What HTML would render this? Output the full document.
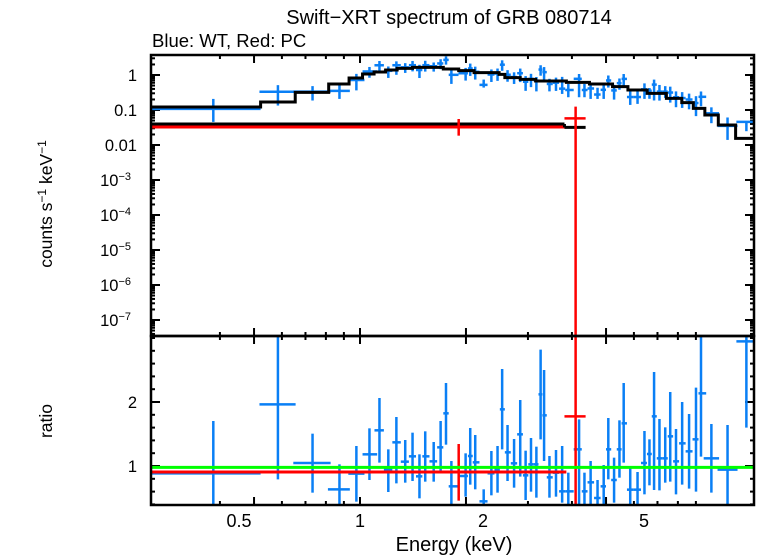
<!DOCTYPE html>
<html><head><meta charset="utf-8"><style>
html,body{margin:0;padding:0;background:#fff;}
svg{display:block;font-family:"Liberation Sans",sans-serif;}
</style></head><body>
<svg id="s" width="758" height="556" viewBox="0 0 758 556" xmlns="http://www.w3.org/2000/svg">
<rect width="758" height="556" fill="#fff"/>
<g id="d"></g>
<text x="449" y="24" font-size="20" text-anchor="middle">Swift−XRT spectrum of GRB 080714</text>
<text x="152" y="47" font-size="18.5">Blue: WT, Red: PC</text>
<text transform="translate(52,204) rotate(-90)" font-size="17.5" text-anchor="middle">counts s<tspan dy="-6" font-size="12">−1</tspan><tspan dy="6"> keV</tspan><tspan dy="-6" font-size="12">−1</tspan></text>
<text transform="translate(52,421) rotate(-90)" font-size="17.5" text-anchor="middle">ratio</text>
<g font-size="16.5" text-anchor="end">
<text x="137" y="81">1</text><text x="137" y="116">0.1</text><text x="137" y="151">0.01</text>
<text x="131" y="186">10<tspan dy="-6" font-size="11">−3</tspan></text>
<text x="131" y="221">10<tspan dy="-6" font-size="11">−4</tspan></text>
<text x="131" y="256">10<tspan dy="-6" font-size="11">−5</tspan></text>
<text x="131" y="291">10<tspan dy="-6" font-size="11">−6</tspan></text>
<text x="131" y="326">10<tspan dy="-6" font-size="11">−7</tspan></text>
<text x="137" y="408">2</text><text x="137" y="472">1</text>
</g>
<g font-size="18" text-anchor="middle">
<text x="239" y="527">0.5</text><text x="360" y="527">1</text><text x="483" y="527">2</text><text x="644" y="527">5</text>
<text x="454" y="551" font-size="20">Energy (keV)</text>
</g>
</svg>
<script>
var NS="http://www.w3.org/2000/svg",g=document.getElementById("d");
function el(t,a){var e=document.createElementNS(NS,t);for(var k in a)e.setAttribute(k,a[k]);g.appendChild(e);return e;}
function ln(x1,y1,x2,y2,c,w){el("line",{x1:x1,y1:y1,x2:x2,y2:y2,stroke:c,"stroke-width":w});}
var L=151,R=754,T=55,M=336,B=505;
function X(z){return L+z/2.6;}
function ex(E){return 360+352*Math.log10(E);}
var ms=[[0,171],[285,156],[375,127],[462,102],[515,84],[550,72],[580,66],[610,60],[640,55],[680,52],[760,57],[800,62],[840,68],[905,73],[920,83],[960,88],[1000,93],[1080,97],[1140,102],[1200,110],[1240,120],[1290,130],[1340,145],[1380,158],[1410,175],[1440,195],[1475,225],[1520,265],[1568,265]];
function mY(z){var y=ms[0][1];for(var i=0;i<ms.length;i++){if(z>=ms[i][0])y=ms[i][1];}return 50+y/3;}
var P=[[162,412,255,510,0,285],[330,205,0,430,282,376],[420,381,293,470,370,467],[490,460,385,510,460,517],[534,413,330,497,513,555],[568,355,277,432,550,588],[594,283,186,380],[617,400,340,468],[638,319,243,442],[661,377,312,440],[680,361,290,435],[698,421,355,487],[713,361,286,437],[735,376,318,437],[753,334,255,412],[767,232,141,326],[781,451,375,510],[818,420,352,482],[830,360,276,446],[843,379,297,460],[865,496,460,510],[885,412,345,478],[901,400,330,470],[913,220,99,340],[927,349,267,435],[944,382,309,455],[960,295,192,422],[974,418,344,492],[988,385,306,467],[1002,385,332,485],[1013,175,41,310],[1022,238,102,375],[1036,424,360,485],[1053,410,342,482],[1069,466,330,500],[1085,466,410,510],[1113,340,250,510],[1127,466,410,510],[1143,439,375,510],[1161,486,432,510],[1177,451,387,510],[1189,340,246,430],[1204,432,365,500],[1218,340,253,425],[1229,262,141,380],[1246,461,395,510],[1265,461,408,505],[1283,381,285,475],[1296,354,310,448],[1308,241,108,462],[1322,367,249,463],[1337,367,274,440],[1350,301,168,437],[1365,376,279,475],[1381,322,198,446],[1399,346,234,458],[1417,310,155,467],[1430,172,0,362],[1457,367,264,470,1437,1477],[1499,401,267,510,1473,1525],[1548,16,0,275,1522,1568]];
var blue="#0a7ff5";
function ticks(y0,y1){
 var maj=[0.5,1,2,5],mn=[0.4,0.6,0.7,0.8,0.9,3,4,6,7,8,9];
 maj.forEach(function(E){var x=ex(E);ln(x,y0,x,y0+8,"#000",2);ln(x,y1,x,y1-8,"#000",2);});
 mn.forEach(function(E){var x=ex(E);ln(x,y0,x,y0+4,"#000",2);ln(x,y1,x,y1-4,"#000",2);});
}
ticks(T,M);ticks(M,B);
for(var d=1;d>=-8;d--){for(var k=1;k<10;k++){var v=d+Math.log10(k);var y=75-35*v;if(y<T||y>M)continue;var w=k==1?9:4;ln(L,y,L+w,y,"#000",2);ln(R,y,R-w,y,"#000",2);}}
for(var r=0.4;r<3.05;r+=0.2){var y=466-64*(r-1);if(y<M||y>B)continue;var w=(Math.abs(r-1)<0.01||Math.abs(r-2)<0.01)?9:4;ln(L,y,L+w,y,"#000",2);ln(R,y,R-w,y,"#000",2);}
var defs=el("defs",{});
var c1=document.createElementNS(NS,"clipPath");c1.setAttribute("id","c1");var r1=document.createElementNS(NS,"rect");r1.setAttribute("x",L);r1.setAttribute("y",T);r1.setAttribute("width",R-L);r1.setAttribute("height",M-T);c1.appendChild(r1);defs.appendChild(c1);
var c2=document.createElementNS(NS,"clipPath");c2.setAttribute("id","c2");var r2=document.createElementNS(NS,"rect");r2.setAttribute("x",L);r2.setAttribute("y",M);r2.setAttribute("width",R-L);r2.setAttribute("height",B-M);c2.appendChild(r2);defs.appendChild(c2);
var gt=el("g",{"clip-path":"url(#c1)"}),gb=el("g",{"clip-path":"url(#c2)"});
function L2(p,x1,y1,x2,y2,c,w){var e=document.createElementNS(NS,"line");e.setAttribute("x1",x1);e.setAttribute("y1",y1);e.setAttribute("x2",x2);e.setAttribute("y2",y2);e.setAttribute("stroke",c);e.setAttribute("stroke-width",w);p.appendChild(e);}
function rat(zy){return 1+(390-zy)/192;}
function ty(my,r){if(r<=0.001)return 400;return my-35*Math.log10(r);}
P.forEach(function(p,i){
 var hl=p[4],hr=p[5];
 if(hl===undefined){var prev=i>0?P[i-1][0]:p[0]-20,next=i<P.length-1?P[i+1][0]:p[0]+20;hl=(p[0]+prev)/2;hr=(p[0]+next)/2;}
 var x=X(p[0]);
 L2(gb,x,336+p[2]/3,x,336+p[3]/3,blue,2.5);
 L2(gb,X(hl),336+p[1]/3,X(hr),336+p[1]/3,blue,2.5);
 var my=mY(p[0]);
 var yc=ty(my,rat(p[1])),yt=ty(my,rat(p[2])),yb=ty(my,rat(p[3]));
 L2(gt,x,yt,x,yb,blue,2.5);
 L2(gt,X(hl),yc,X(hr),yc,blue,2.5);
});
var pts="";for(var i=0;i<ms.length;i++){var x=X(ms[i][0]),y=50+ms[i][1]/3;if(i>0)pts+=x+","+(50+ms[i-1][1]/3)+" ";pts+=x+","+y+" ";}
var pl=document.createElementNS(NS,"polyline");pl.setAttribute("points",pts);pl.setAttribute("fill","none");pl.setAttribute("stroke","#000");pl.setAttribute("stroke-width",3);gt.appendChild(pl);
var red="#f00";
L2(gt,X(0),50+231/3,X(1075),50+231/3,red,3);
L2(gt,X(0),50+222/3,X(1075),50+222/3,"#000",3);
L2(gt,X(1075),50+222/3,X(1075),50+232/3,"#000",3);
L2(gt,X(1075),50+232/3,X(1130),50+232/3,"#000",3);
L2(gt,X(800),50+207/3,X(800),50+257/3,red,2.5);
L2(gt,X(1104),50+170/3,X(1104),340,red,2.5);
L2(gt,X(1075),50+205/3,X(1130),50+205/3,red,2.5);
L2(gb,X(0),336+408/3,X(1080),336+408/3,red,3);
L2(gb,X(800),336+324/3,X(800),336+494/3,red,2.5);
L2(gb,X(1104),336,X(1104),B,red,2.5);
L2(gb,X(1075),336+241/3,X(1130),336+241/3,red,2.5);
L2(gb,L,336+394/3,R,336+394/3,"#0f0",3);
el("rect",{x:L,y:T,width:R-L,height:M-T,fill:"none",stroke:"#000","stroke-width":2.5});
el("rect",{x:L,y:M,width:R-L,height:B-M,fill:"none",stroke:"#000","stroke-width":2.5});
</script>
</body></html>
